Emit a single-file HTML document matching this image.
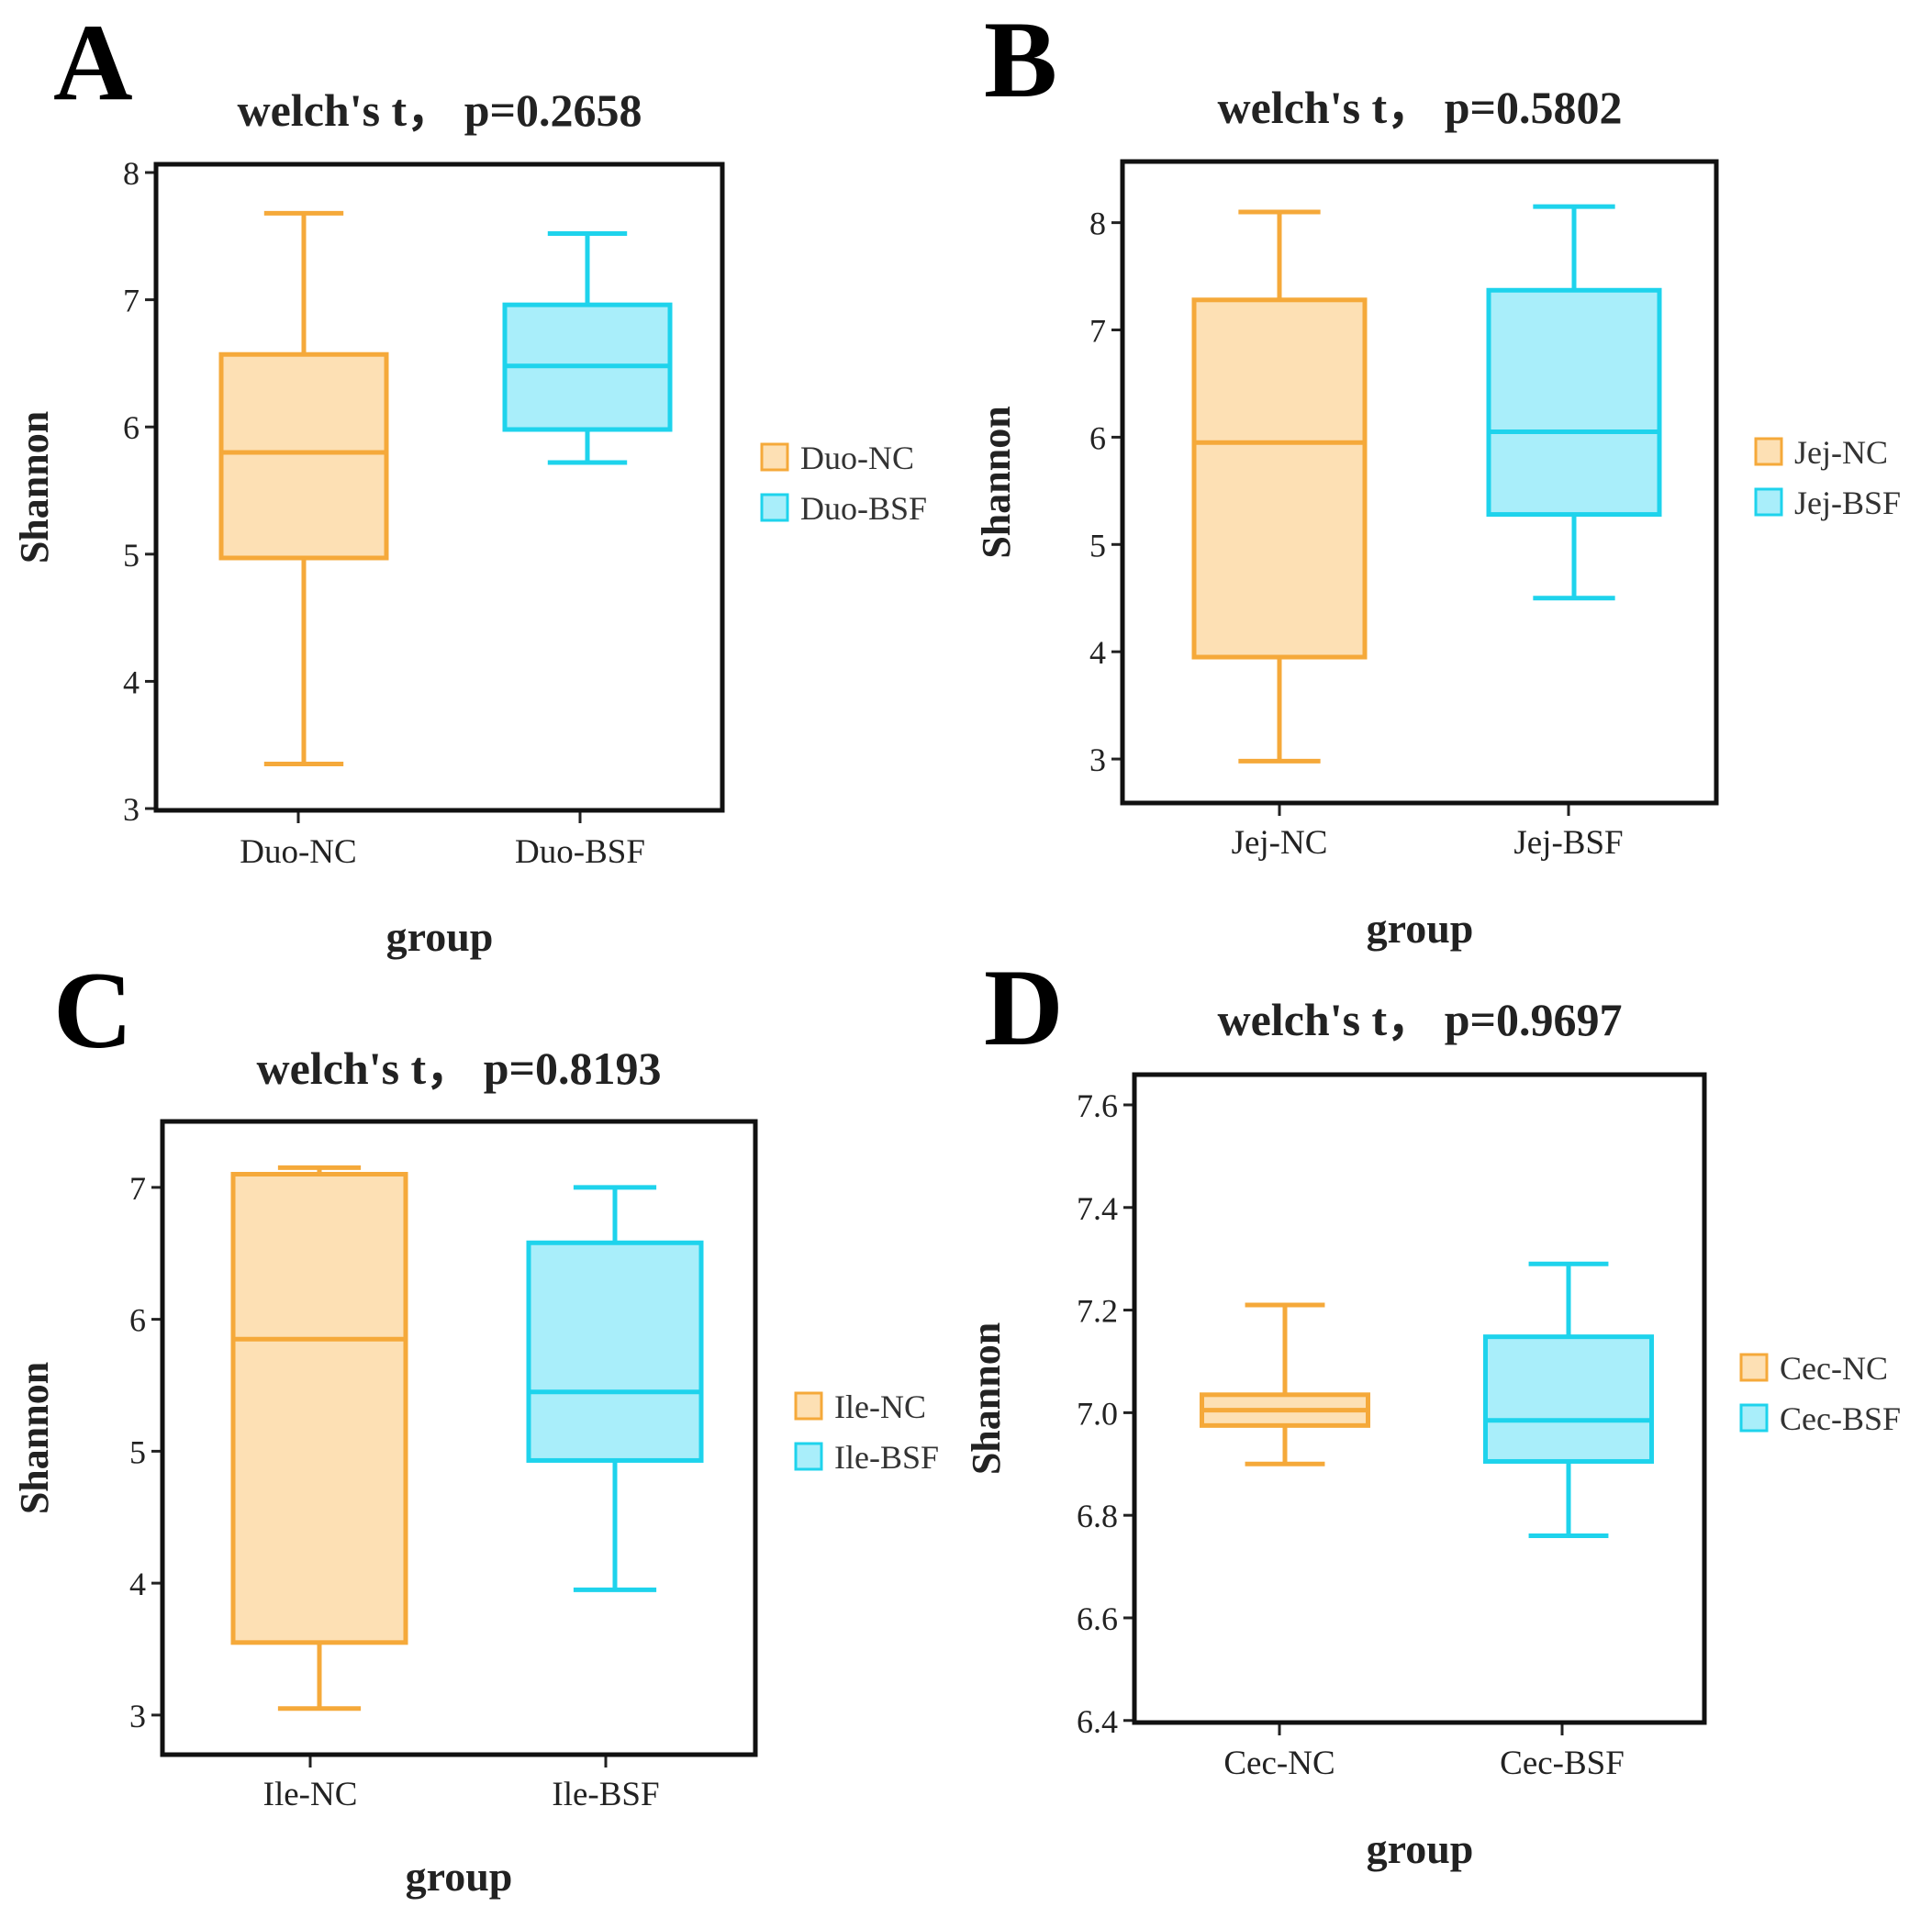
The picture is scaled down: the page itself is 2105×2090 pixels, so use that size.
<!DOCTYPE html>
<html><head><meta charset="utf-8">
<style>
html,body{margin:0;padding:0;background:#fff;}
svg{display:block;font-family:"Liberation Serif",serif;}
</style></head>
<body>
<svg id="fig" width="2105" height="2090" viewBox="0 0 2105 2090" xmlns="http://www.w3.org/2000/svg"></svg>
<script>
// ---- data (min, q1, median, q3, max) ----
const catsA = ["Duo-NC","Duo-BSF"];
const statsA_NC  = [3.35, 4.97, 5.80, 6.57, 7.68];
const statsA_BSF = [5.72, 5.98, 6.48, 6.96, 7.52];
const ticksA = [3,4,5,6,7,8];
const pA = "0.2658";

const catsB = ["Jej-NC","Jej-BSF"];
const statsB_NC  = [2.98, 3.95, 5.95, 7.28, 8.10];
const statsB_BSF = [4.50, 5.28, 6.05, 7.37, 8.15];
const ticksB = [3,4,5,6,7,8];
const pB = "0.5802";

const catsC = ["Ile-NC","Ile-BSF"];
const statsC_NC  = [3.05, 3.55, 5.85, 7.10, 7.15];
const statsC_BSF = [3.95, 4.93, 5.45, 6.58, 7.00];
const ticksC = [3,4,5,6,7];
const pC = "0.8193";

const catsD = ["Cec-NC","Cec-BSF"];
const statsD_NC  = [6.90, 6.975, 7.005, 7.035, 7.21];
const statsD_BSF = [6.76, 6.905, 6.985, 7.148, 7.29];
const ticksD = ["6.4","6.6","6.8","7.0","7.2","7.4","7.6"];
const pD = "0.9697";

const NS="http://www.w3.org/2000/svg";
const svg=document.getElementById('fig');
function mk(tag,attrs,parent){const e=document.createElementNS(NS,tag);for(const k in attrs)e.setAttribute(k,attrs[k]);(parent||svg).appendChild(e);return e;}
function txt(s,attrs,parent){const e=mk('text',attrs,parent);e.textContent=s;return e;}

const COL=[{s:"#f5a93a",f:"#fde0b4"},{s:"#1ed3ec",f:"#a9eefa"}];

function panel(o){
  const g=mk('g',{});
  
  
  const y=v=>o.fy+(o.ymax-v)/(o.ymax-o.ymin)*o.fh;
  const L=txt(o.letter,{x:o.lx,y:o.ly,'font-size':120,'font-weight':'bold',fill:'#000'},g);
  
  
  const T=txt("welch's t\uFF0C p="+o.p,{x:o.tx,y:o.ty,'font-size':50,'font-weight':'bold','text-anchor':'middle',fill:'#222'},g);
  
  
  o.ticks.forEach(t=>{
    const yy=y(parseFloat(t));
    const tl=mk('line',{x1:o.fx-12,x2:o.fx,y1:yy,y2:yy,stroke:'#222','stroke-width':3},g);
    
    
    const lb=txt(String(t),{x:o.fx-18,y:yy+13,'font-size':36,'text-anchor':'end',fill:'#222'},g);
    
    
  });
  const ya=txt("Shannon",{transform:`translate(${o.yx},${o.fy+o.fh/2}) rotate(-90)`,'font-size':44,'font-weight':'bold','text-anchor':'middle',fill:'#222'},g);
  
  
  [o.nc,o.bsf].forEach((s,i)=>{
    const cx=o.cx[i], hw=o.bw/2, c=COL[i];
    const bg=mk('g',{},g);
    
    
    mk('line',{x1:cx,x2:cx,y1:y(s[0]),y2:y(s[1]),stroke:c.s,'stroke-width':5},bg);
    mk('line',{x1:cx,x2:cx,y1:y(s[3]),y2:y(s[4]),stroke:c.s,'stroke-width':5},bg);
    mk('line',{x1:cx-hw*0.48,x2:cx+hw*0.48,y1:y(s[0]),y2:y(s[0]),stroke:c.s,'stroke-width':5},bg);
    mk('line',{x1:cx-hw*0.48,x2:cx+hw*0.48,y1:y(s[4]),y2:y(s[4]),stroke:c.s,'stroke-width':5},bg);
    mk('rect',{x:cx-hw,y:y(s[3]),width:o.bw,height:y(s[1])-y(s[3]),fill:c.f,stroke:c.s,'stroke-width':5},bg);
    mk('line',{x1:cx-hw,x2:cx+hw,y1:y(s[2]),y2:y(s[2]),stroke:c.s,'stroke-width':5},bg);
    const xt=mk('line',{x1:o.tk[i],x2:o.tk[i],y1:o.fy+o.fh,y2:o.fy+o.fh+14,stroke:'#222','stroke-width':3},g);
    
    
    const xl=txt(o.cats[i],{x:o.tk[i],y:o.cy,'font-size':37,'text-anchor':'middle',fill:'#222'},g);
    
    
    const le=mk('g',{},g);
    
    
    mk('rect',{x:o.lgx,y:o.lgy+i*55,width:28,height:28,fill:c.f,stroke:c.s,'stroke-width':3},le);
    txt(o.cats[i],{x:o.lgx+42,y:o.lgy+i*55+27,'font-size':36,fill:'#333'},le);
  });
  const fr=mk('rect',{x:o.fx,y:o.fy,width:o.fw,height:o.fh,fill:'none',stroke:'#111','stroke-width':5},g);
  
  
  const xa=txt("group",{x:o.tx,y:o.gy,'font-size':46,'font-weight':'bold','text-anchor':'middle',fill:'#222'},g);
  
  
}

panel({letter:"A",lx:58,ly:108,tx:479,ty:137,p:pA,fx:170,fy:179,fw:617,fh:704,ymin:2.986,ymax:8.065,
  ticks:ticksA,cats:catsA,nc:statsA_NC,bsf:statsA_BSF,cx:[331,640],tk:[325,632],bw:180,cy:940,gy:1036,yx:52,lgx:830,lgy:484});
panel({letter:"B",lx:1072,ly:105,tx:1547,ty:134,p:pB,fx:1223,fy:176,fw:647,fh:699,ymin:2.59,ymax:8.57,
  ticks:ticksB,cats:catsB,nc:statsB_NC,bsf:statsB_BSF,cx:[1394,1715],tk:[1394,1709],bw:186,cy:930,gy:1027,yx:1100,lgx:1913,lgy:478});
panel({letter:"C",lx:58,ly:1141,tx:500,ty:1181,p:pC,fx:177,fy:1222,fw:646,fh:690,ymin:2.70,ymax:7.5,
  ticks:ticksC,cats:catsC,nc:statsC_NC,bsf:statsC_BSF,cx:[348,670],tk:[338,660],bw:188,cy:1967,gy:2060,yx:52,lgx:867,lgy:1518});
panel({letter:"D",lx:1072,ly:1138,tx:1547,ty:1128,p:pD,fx:1236,fy:1171,fw:621,fh:706,ymin:6.396,ymax:7.659,
  ticks:ticksD,cats:catsD,nc:statsD_NC,bsf:statsD_BSF,cx:[1400,1709],tk:[1394,1702],bw:181,cy:1933,gy:2030,yx:1089,lgx:1897,lgy:1476});
</script>
</body></html>
